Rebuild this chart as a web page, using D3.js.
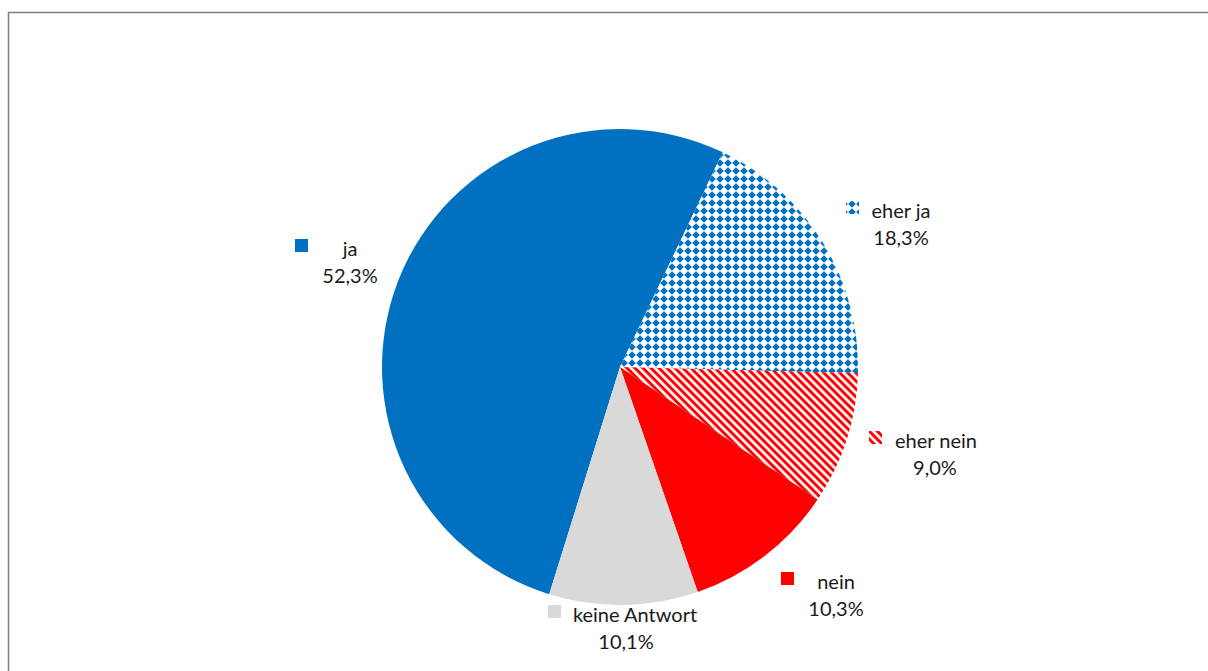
<!DOCTYPE html>
<html>
<head>
<meta charset="utf-8">
<script src="https://cdn.jsdelivr.net/npm/d3@7"></script>
<style>
  body { margin: 0; background: #fff; }
  text { font-family: "Lato", "Noto Sans", sans-serif; fill: #1a1a1a; }
</style>
</head>
<body>
<div id="chart"></div>
<script>
// chart data
const categories = ["ja", "eher ja", "eher nein", "nein", "keine Antwort"];
const values = [52.3, 18.3, 9.0, 10.3, 10.1];
const valueLabels = ["52,3%", "18,3%", "9,0%", "10,3%", "10,1%"];

const width = 1208,
      height = 671,
      cx = 620, cy = 367, radius = 238;

// fills: solid / pattern ids
const fills = ["#0070c0", "url(#checker)", "url(#stripes)", "#ff0000", "#d9d9d9"];

// hand placed label layout, like the original (text centres, baseline, key square x)
const labelPos = [
  { cat: 350, val: 350, key: 295, y: 256 },
  { cat: 901, val: 901, key: 846, y: 218 },
  { cat: 936, val: 935, key: 869, y: 448 },
  { cat: 836, val: 836, key: 781, y: 589 },
  { cat: 635, val: 626, key: 548, y: 622 }
];

let svg = d3.select("#chart")
    .append("svg")
    .attr("width", width)
    .attr("height", height);

let defs = svg.append("defs");

// diamond grid pattern
let checker = defs.append("pattern")
    .attr("id", "checker")
    .attr("patternUnits", "userSpaceOnUse")
    .attr("width", 8).attr("height", 8);
checker.append("rect").attr("width", 8).attr("height", 8).attr("fill", "#fff");
checker.append("path")
    .attr("d", "M4,0.2 L7.8,4 L4,7.8 L0.2,4 Z")
    .attr("fill", "#0070c0");

// diagonal stripes
let stripes = defs.append("pattern")
    .attr("id", "stripes")
    .attr("patternUnits", "userSpaceOnUse")
    .attr("width", 8).attr("height", 5.66)
    .attr("patternTransform", "rotate(45)");
stripes.append("rect").attr("width", 8).attr("height", 5.66).attr("fill", "#fff");
stripes.append("rect").attr("width", 8).attr("height", 3).attr("fill", "#ff0000");

// chart frame
svg.append("path")
    .attr("d", `M8.5,${height + 5} V12.5 H${width + 5}`)
    .attr("fill", "none")
    .attr("stroke", "#7f7f7f")
    .attr("stroke-width", 1.5);

let pie = d3.pie()
    .sort(null)
    .value(d => d)
    .startAngle(3.4436) // ja starts lower left
    .endAngle(3.4436 + 2 * Math.PI);

let arc = d3.arc().innerRadius(0).outerRadius(radius);

svg.append("g")
    .attr("transform", `translate(${cx},${cy})`)
    .selectAll("path")
    .data(pie(values))
    .join("path")
    .attr("d", arc)
    .attr("fill", (d, i) => fills[i]);

// labels
let label = svg.selectAll(".label")
    .data(categories)
    .join("g")
    .attr("class", "label");

label.append("text")
    .attr("text-anchor", "middle")
    .attr("font-size", 20)
    .attr("x", (d, i) => labelPos[i].cat)
    .attr("y", (d, i) => labelPos[i].y)
    .text(d => d);

label.append("text")
    .attr("text-anchor", "middle")
    .attr("font-size", 20)
    .attr("x", (d, i) => labelPos[i].val)
    .attr("y", (d, i) => labelPos[i].y + 27)
    .text((d, i) => valueLabels[i]);

// legend key square
label.append("rect")
    .attr("x", (d, i) => labelPos[i].key)
    .attr("y", (d, i) => labelPos[i].y - 17)
    .attr("width", 13)
    .attr("height", 13)
    .attr("fill", (d, i) => fills[i]);
</script>
</body>
</html>
